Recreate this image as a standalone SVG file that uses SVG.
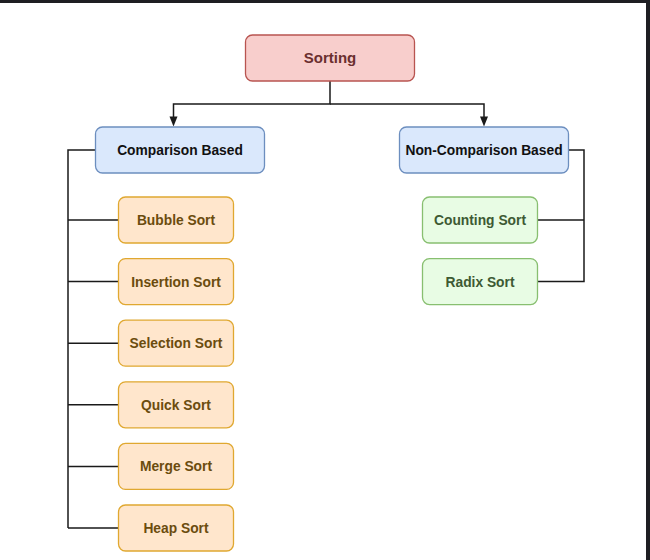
<svg xmlns="http://www.w3.org/2000/svg" width="650" height="560" viewBox="0 0 650 560">
<defs>
<style>
text{font-family:"Liberation Sans",Arial,Helvetica,sans-serif;font-weight:bold;font-size:13.8px;text-anchor:middle}
.root rect{fill:#f8cecc;stroke:#b85450;stroke-width:1.3}
.root text{fill:#6b2f2f;font-size:15px}
.cat rect{fill:#dae8fc;stroke:#6c8ebf;stroke-width:1.3}
.cat text{fill:#111}
.cmp rect{fill:#ffe6cc;stroke:#e0a830;stroke-width:1.3}
.cmp text{fill:#6b4c0e}
.ncmp rect{fill:#e8fce4;stroke:#88bf70;stroke-width:1.3}
.ncmp text{fill:#3d5a33}
.edge{fill:none;stroke:#1a1a1a;stroke-width:1.5}
</style>
<marker id="arr" markerUnits="userSpaceOnUse" markerWidth="10" markerHeight="12" refX="4" refY="10" orient="auto-start-reverse" viewBox="0 0 8 10">
<path d="M0,0 L8,0 L4,10 Z" fill="#1a1a1a" transform="rotate(-90 4 5)"/>
</marker>
</defs>
<rect x="0" y="0" width="650" height="560" fill="#ffffff"/>
<rect x="0" y="0" width="650" height="3" fill="#1e1e22"/>
<rect x="646" y="0" width="4" height="560" fill="#1e1e22"/>

<g id="connectors">
<path class="edge" d="M330,81 V104 H173.5 V117"/>
<path class="edge" d="M330,104 H484 V117"/>
<polygon points="169.5,116.5 177.5,116.5 173.5,126.5" fill="#1a1a1a"/>
<polygon points="480,116.5 488,116.5 484,126.5" fill="#1a1a1a"/>
<path class="edge" d="M95,150 H68 V528"/>
<path class="edge" d="M68,220 H118 M68,281.6 H118 M68,343.2 H118 M68,404.8 H118 M68,466.4 H118 M68,528 H118"/>
<path class="edge" d="M569,150 H584 V281.6 H538 M584,220 H538"/>
</g>

<g id="sorting" class="root"><rect x="245.5" y="35" width="169" height="46" rx="7"/><text x="330" y="63.3">Sorting</text></g>
<g id="comparison" class="cat"><rect x="95.5" y="127" width="169" height="46" rx="7"/><text x="180" y="155">Comparison Based</text></g>
<g id="noncomparison" class="cat"><rect x="399.5" y="127" width="169" height="46" rx="7"/><text x="484" y="155">Non-Comparison Based</text></g>

<g id="bubble" class="cmp"><rect x="118.5" y="197" width="115" height="46" rx="7"/><text x="176" y="225">Bubble Sort</text></g>
<g id="insertion" class="cmp"><rect x="118.5" y="258.6" width="115" height="46" rx="7"/><text x="176" y="286.6">Insertion Sort</text></g>
<g id="selection" class="cmp"><rect x="118.5" y="320.2" width="115" height="46" rx="7"/><text x="176" y="348.2">Selection Sort</text></g>
<g id="quick" class="cmp"><rect x="118.5" y="381.8" width="115" height="46" rx="7"/><text x="176" y="409.8">Quick Sort</text></g>
<g id="merge" class="cmp"><rect x="118.5" y="443.4" width="115" height="46" rx="7"/><text x="176" y="471.4">Merge Sort</text></g>
<g id="heap" class="cmp"><rect x="118.5" y="505" width="115" height="46" rx="7"/><text x="176" y="533">Heap Sort</text></g>

<g id="counting" class="ncmp"><rect x="422.5" y="197" width="115" height="46" rx="7"/><text x="480" y="225">Counting Sort</text></g>
<g id="radix" class="ncmp"><rect x="422.5" y="258.6" width="115" height="46" rx="7"/><text x="480" y="286.6">Radix Sort</text></g>
</svg>
